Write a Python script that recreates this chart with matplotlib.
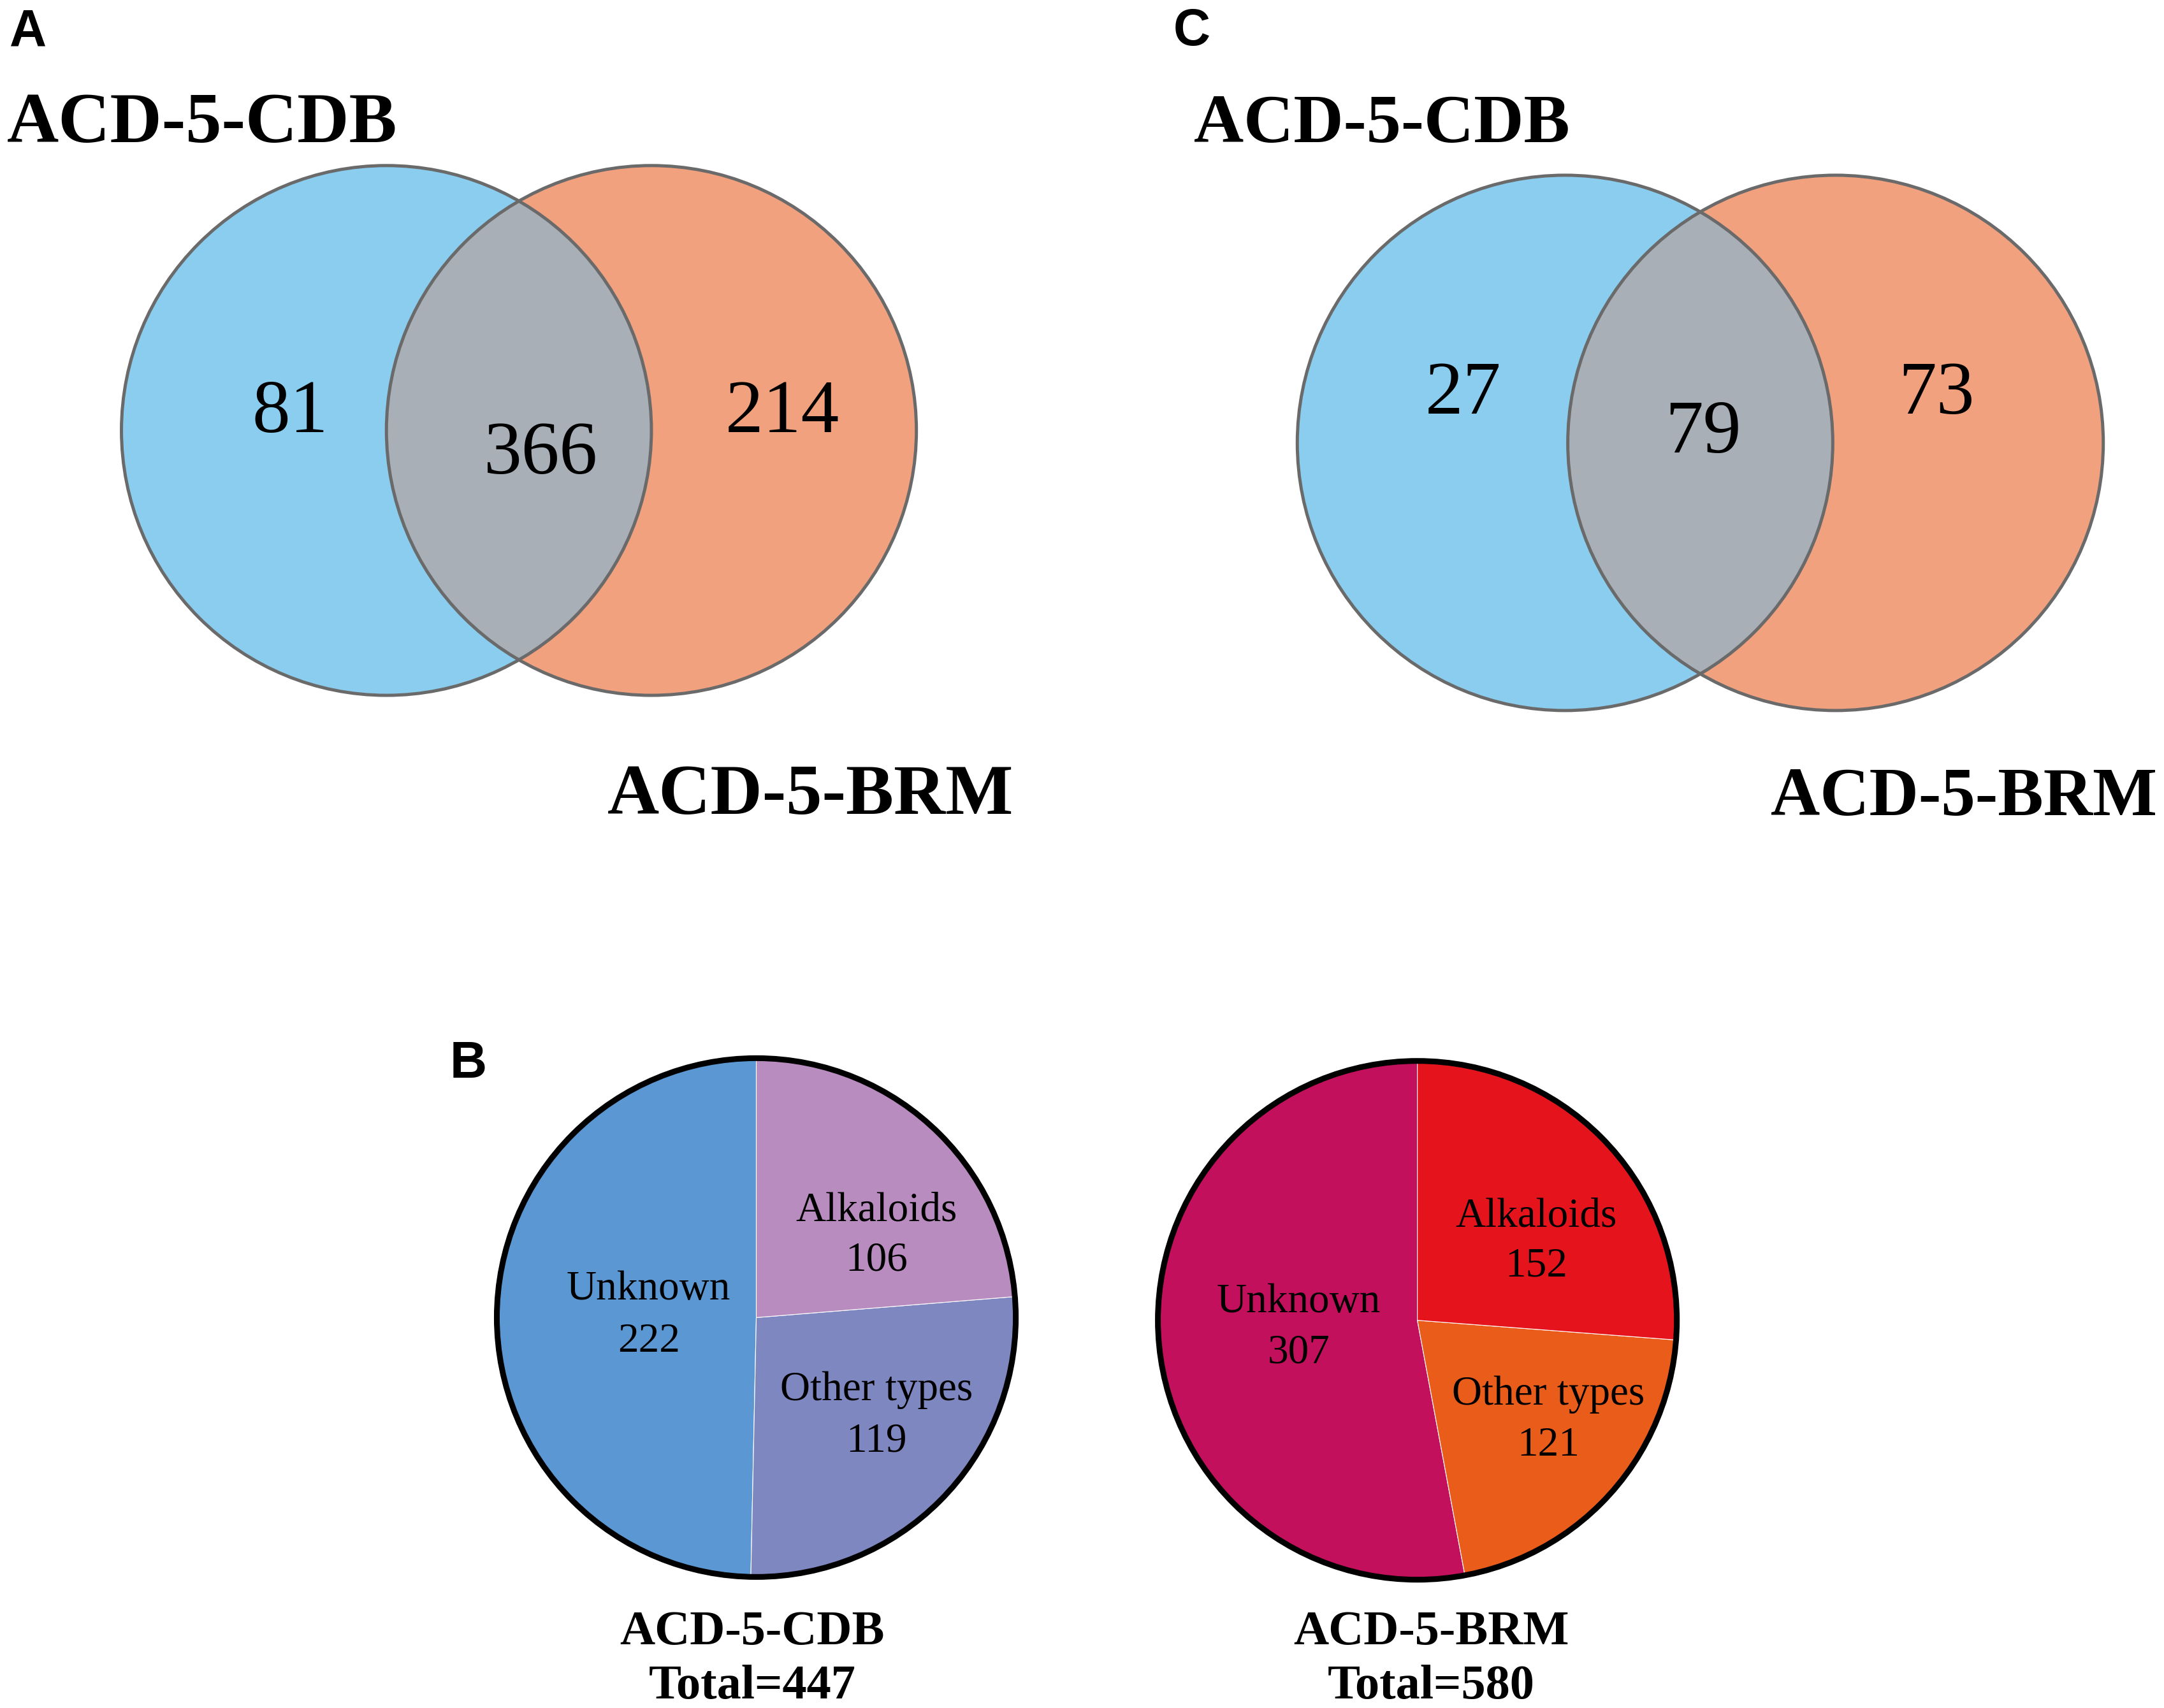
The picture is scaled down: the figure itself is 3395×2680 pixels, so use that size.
import numpy as np
import matplotlib.pyplot as plt
from matplotlib.patches import Circle

# reference drawn in a 1568 x 1238 frame (y measured from top)
W, H = 1568, 1238

set_names = ['ACD-5-CDB', 'ACD-5-BRM']
# only-CDB, shared, only-BRM
venn_a = [81, 366, 214]
venn_c = [27, 79, 73]

pie_labels = ['Unknown', 'Other types', 'Alkaloids']
pie_cdb = [222, 119, 106]
pie_brm = [307, 121, 152]
cdb_colors = ['#5B97D2', '#7F87C1', '#B98CBF']
brm_colors = ['#C2105C', '#E95C1A', '#E5141C']

blue = '#8ACDEE'
orange = '#F2A17F'
grey = '#A9AFB7'
edge = '#6A6A6A'

plt.rcParams['font.family'] = 'Liberation Serif'

fig = plt.figure(figsize=(33.95, 26.8), dpi=100)
ax = fig.add_axes([0, 0, 1, 1])


def txt(x, yd, s, **kw):
    kw.setdefault('va', 'baseline')
    return ax.text(x, H - yd, s, **kw)


def venn(cxl, cxr, cyd, r, counts, num_pos):
    cy = H - cyd
    left = Circle((cxl, cy), r, facecolor=blue, edgecolor='none', zorder=1)
    right = Circle((cxr, cy), r, facecolor=orange, edgecolor='none', zorder=1)
    ax.add_patch(left)
    ax.add_patch(right)
    # overlap drawn as the right circle clipped to the left one
    lens = Circle((cxr, cy), r, facecolor=grey, edgecolor='none', zorder=2)
    ax.add_patch(lens)
    lens.set_clip_path(left)
    for c in (cxl, cxr):
        ax.add_patch(Circle((c, cy), r, fill=False, edgecolor=edge, lw=3.6, zorder=3))
    for n, (x, yd) in zip(counts, num_pos):
        txt(x, yd, str(n), ha='center', fontsize=86, zorder=4)


# panel A
venn(280, 472, 312, 192, venn_a, [(210, 313), (392, 343), (567, 313)])
txt(5, 103, set_names[0], fontsize=81, fontweight='bold')
txt(440, 590, set_names[1], fontsize=81, fontweight='bold')
txt(7, 33, 'A', family='Liberation Sans', fontweight='bold', fontsize=58)

# panel C
venn(1134, 1330, 321, 194, venn_c, [(1060, 300), (1234, 328), (1403, 300)])
txt(865, 103, set_names[0], fontsize=78, fontweight='bold')
txt(1283, 591, set_names[1], fontsize=77, fontweight='bold')
txt(850, 33, 'C', family='Liberation Sans', fontweight='bold', fontsize=58)

# panel B pies
pies = [
    (pie_cdb, cdb_colors, 548, 955, 545, set_names[0],
     [(470, 942, 980), (635, 1015, 1052), (635, 885, 921)]),
    (pie_brm, brm_colors, 1027, 957, 1037, set_names[1],
     [(941, 951, 988), (1122, 1018, 1055), (1113, 889, 925)]),
]
for vals, cols, cx, cyd, tx, name, lab_pos in pies:
    ax.pie(vals, colors=cols, startangle=90, counterclock=True,
           center=(cx, H - cyd), radius=188, frame=True,
           wedgeprops=dict(edgecolor='white', linewidth=0.8))
    ax.add_patch(Circle((cx, H - cyd), 188, fill=False, edgecolor='black', lw=6.5, zorder=5))
    for lab, v, (x, y1, y2) in zip(pie_labels, vals, lab_pos):
        txt(x, y1, lab, ha='center', fontsize=47, zorder=6)
        txt(x, y2, str(v), ha='center', fontsize=47, zorder=6)
    txt(tx, 1192, name, ha='center', fontsize=55, fontweight='bold')
    txt(tx, 1231, f'Total={sum(vals)}', ha='center', fontsize=55, fontweight='bold')

txt(326, 781, 'B', family='Liberation Sans', fontweight='bold', fontsize=58)

ax.set_xlim(0, W)
ax.set_ylim(0, H)
ax.set_aspect('auto')
ax.axis('off')

fig.savefig('out.png', dpi=100)
